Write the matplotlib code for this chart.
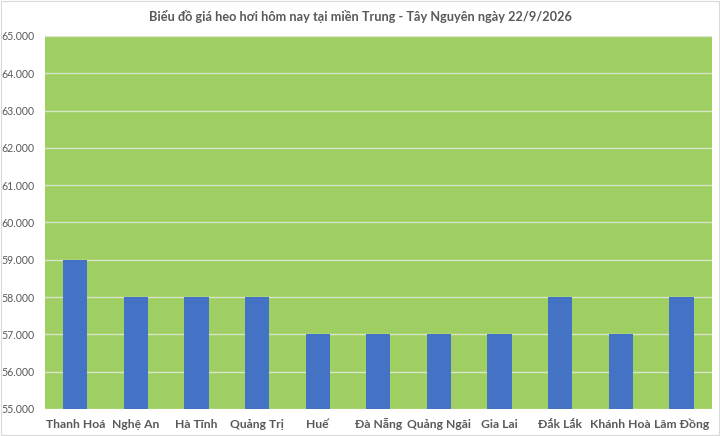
import matplotlib
matplotlib.use('Agg')
import matplotlib.pyplot as plt
import matplotlib.ticker as mticker
import numpy as np

plt.rcParams['font.family'] = ['Lato', 'DejaVu Sans']

PROVINCES = ['Thanh Hoá', 'Nghệ An', 'Hà Tĩnh', 'Quảng Trị', 'Huế', 'Đà Nẵng',
             'Quảng Ngãi', 'Gia Lai', 'Đắk Lắk', 'Khánh Hoà', 'Lâm Đồng']
PRICES = [59000, 58000, 58000, 58000, 57000, 57000, 57000, 57000, 58000, 57000, 58000]
Y_TICKS = list(range(55000, 65001, 1000))
TITLE = 'Biểu đồ giá heo hơi hôm nay tại miền Trung - Tây Nguyên ngày 22/9/2026'

GREEN = '#9FCF63'
BLUE = '#4472C4'
GREY = '#595959'

fig = plt.figure(figsize=(7.2, 4.36), dpi=100)
ax = fig.add_axes([0.0625, 0.062, 0.926, 0.8555])
ax.set_facecolor(GREEN)

x = np.arange(len(PROVINCES))
ax.bar(x, PRICES, width=0.40, color=BLUE, zorder=3)

ax.set_ylim(55000, 65000)
ax.set_xlim(-0.5, len(PROVINCES) - 0.5)
ax.set_yticks(Y_TICKS)
ax.yaxis.set_major_formatter(mticker.FuncFormatter(lambda v, _: f'{int(v):,}'.replace(',', '.')))
ax.grid(axis='y', color='#D8E6C8', linewidth=1.0, zorder=1)
ax.set_xticks(x)
ax.set_xticklabels(PROVINCES, fontweight='bold', fontsize=8.7, color=GREY, va='baseline')
ax.tick_params(axis='y', labelsize=7.6, colors=GREY, length=0, pad=7.5)
ax.tick_params(axis='x', length=0, pad=14)
for s in ax.spines.values():
    s.set_visible(False)

fig.text(0.5, 0.962, TITLE, ha='center', va='center', fontsize=9.2,
         fontweight='bold', color=GREY)

fig.patches.append(plt.Rectangle((0.002, 0.003), 0.996, 0.994, transform=fig.transFigure,
                                 fill=False, edgecolor='#D9D9D9', linewidth=0.8))

fig.savefig('out.png', dpi=100)
